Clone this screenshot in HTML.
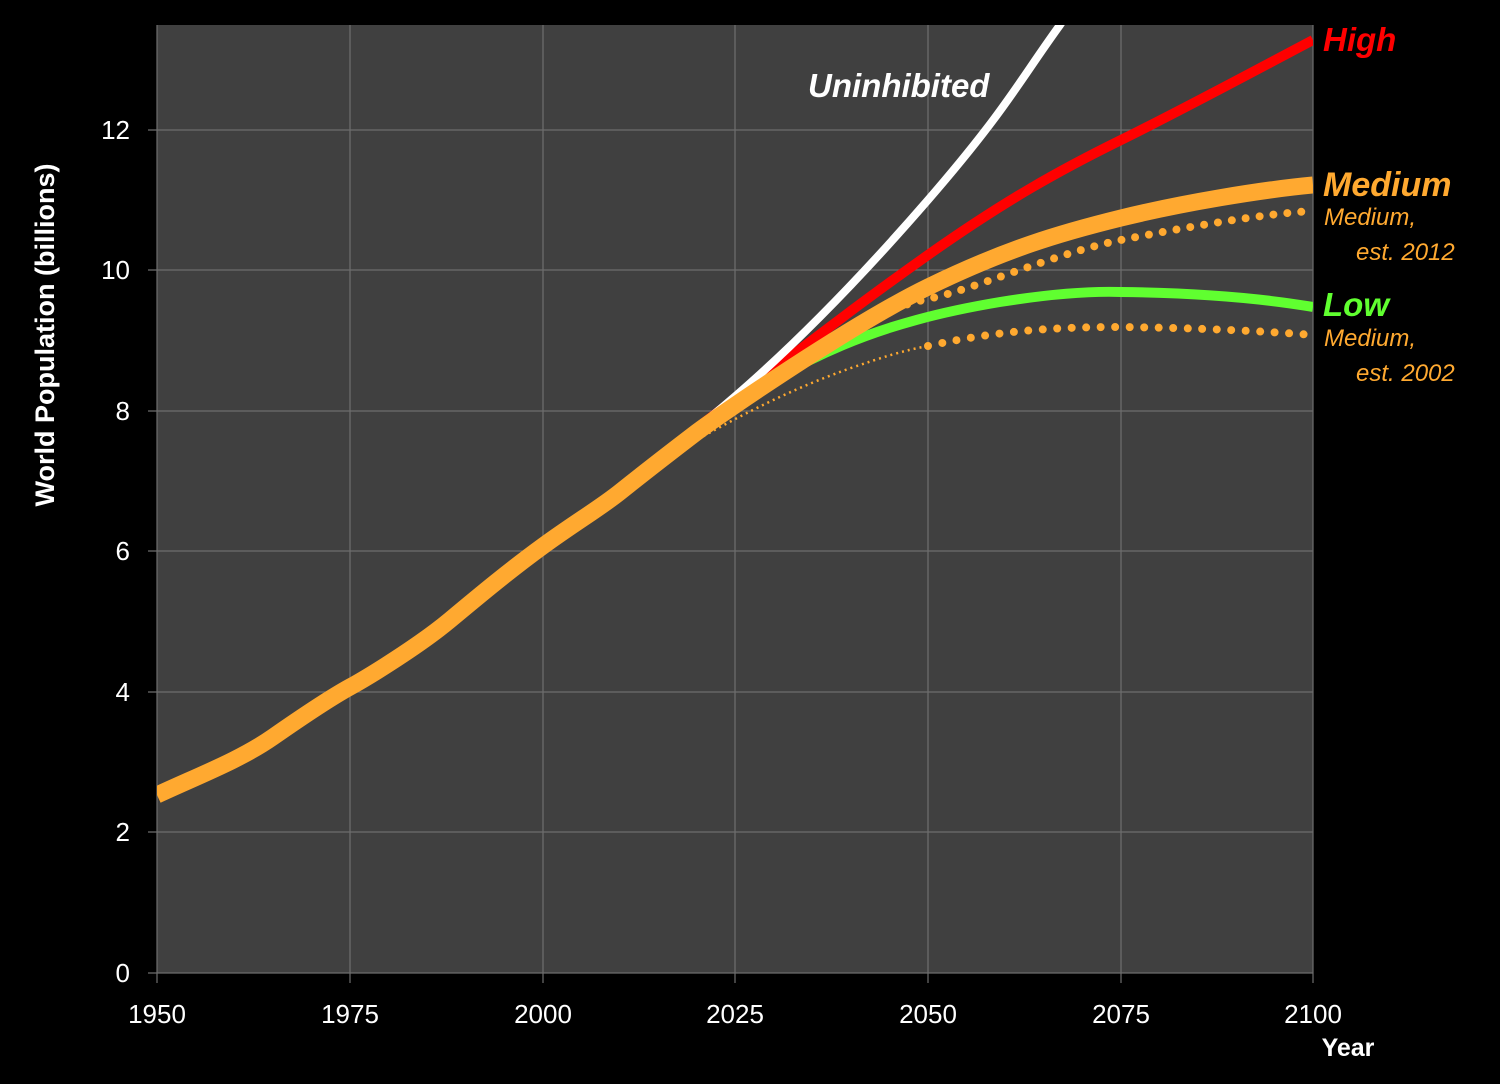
<!DOCTYPE html>
<html><head><meta charset="utf-8"><style>
html,body{margin:0;padding:0;background:#000;}
svg{display:block;}
text{font-family:"Liberation Sans",sans-serif;}
</style></head><body>
<svg width="1500" height="1084" viewBox="0 0 1500 1084" xmlns="http://www.w3.org/2000/svg">
<rect width="1500" height="1084" fill="#000"/>
<rect x="157" y="25" width="1156" height="948" fill="#404040"/>
<defs><clipPath id="c"><rect x="157" y="25" width="1156" height="948"/></clipPath></defs>
<g stroke="#6e6e6e" stroke-width="1.2">
<line x1="148" y1="973" x2="1313" y2="973"/>
<line x1="148" y1="832" x2="1313" y2="832"/>
<line x1="148" y1="692" x2="1313" y2="692"/>
<line x1="148" y1="551" x2="1313" y2="551"/>
<line x1="148" y1="411" x2="1313" y2="411"/>
<line x1="148" y1="270" x2="1313" y2="270"/>
<line x1="148" y1="130" x2="1313" y2="130"/>
<line x1="157" y1="25" x2="157" y2="983"/>
<line x1="350" y1="25" x2="350" y2="983"/>
<line x1="543" y1="25" x2="543" y2="983"/>
<line x1="735" y1="25" x2="735" y2="983"/>
<line x1="928" y1="25" x2="928" y2="983"/>
<line x1="1121" y1="25" x2="1121" y2="983"/>
<line x1="1313" y1="25" x2="1313" y2="983"/>
</g>
<g fill="#fff" font-size="26" text-anchor="end">
<text x="130" y="982">0</text><text x="130" y="841">2</text><text x="130" y="701">4</text>
<text x="130" y="560">6</text><text x="130" y="420">8</text><text x="130" y="279">10</text><text x="130" y="139">12</text>
</g>
<g fill="#fff" font-size="26" text-anchor="middle">
<text x="157" y="1023">1950</text><text x="350" y="1023">1975</text><text x="543" y="1023">2000</text>
<text x="735" y="1023">2025</text><text x="928" y="1023">2050</text><text x="1121" y="1023">2075</text><text x="1313" y="1023">2100</text>
</g>
<text x="1348" y="1056" fill="#fff" font-size="25" font-weight="bold" text-anchor="middle">Year</text>
<text transform="translate(54,335) rotate(-90)" fill="#fff" font-size="27" font-weight="bold" text-anchor="middle">World Population  (billions)</text>
<g clip-path="url(#c)" fill="none" stroke-linecap="butt">
<path d="M640,470 C700,440 760,400 851,368 C880,358 905,350 928,346" stroke="#ffa930" stroke-width="2.5" stroke-dasharray="2 4"/>
<path d="M928,346 C1000,330 1060,327 1121,327 C1200,328 1260,331 1313,335" stroke="#ffa930" stroke-width="8" stroke-linecap="round" stroke-dasharray="0 14.5"/>
<path d="M805,350 C860,322 890,307 932,298 S1060,252 1121,240 S1260,214 1313,211" stroke="#ffa930" stroke-width="8" stroke-linecap="round" stroke-dasharray="0 14"/>
<path d="M697,430 C800,355 880,322 1000,302 C1050,294 1090,291 1121,292 C1200,293 1260,298 1313,307" stroke="#60ff30" stroke-width="10"/>
<path d="M697,428 C780,365 850,310 928,255 S1060,170 1121,140 S1260,68 1313,40" stroke="#ff0000" stroke-width="10"/>
<path d="M697,428 C770,370 850,290 928,200 S1020,80 1060,25 L1080,-5" stroke="#ffffff" stroke-width="8"/>
<path d="M157,795 C200,775 240,760 273,737 S330,698 350,687 S420,645 450,620 S510,570 543,546 S600,508 620,492 S680,445 697,432 S850,325 928,287 S1060,233 1121,218 S1260,190 1313,185" stroke="#ffa930" stroke-width="17"/>
</g>
<g font-style="italic">
<text x="808" y="97" fill="#fff" font-size="33" font-weight="bold">Uninhibited</text>
<text x="1323" y="51" fill="#ff0000" font-size="33" font-weight="bold">High</text>
<text x="1323" y="196" fill="#ffa930" font-size="34" font-weight="bold">Medium</text>
<text x="1324" y="225" fill="#ffa930" font-size="24">Medium,</text>
<text x="1356" y="260" fill="#ffa930" font-size="24">est. 2012</text>
<text x="1323" y="316" fill="#60ff30" font-size="33" font-weight="bold">Low</text>
<text x="1324" y="346" fill="#ffa930" font-size="24">Medium,</text>
<text x="1356" y="381" fill="#ffa930" font-size="24">est. 2002</text>
</g>
</svg>
</body></html>
